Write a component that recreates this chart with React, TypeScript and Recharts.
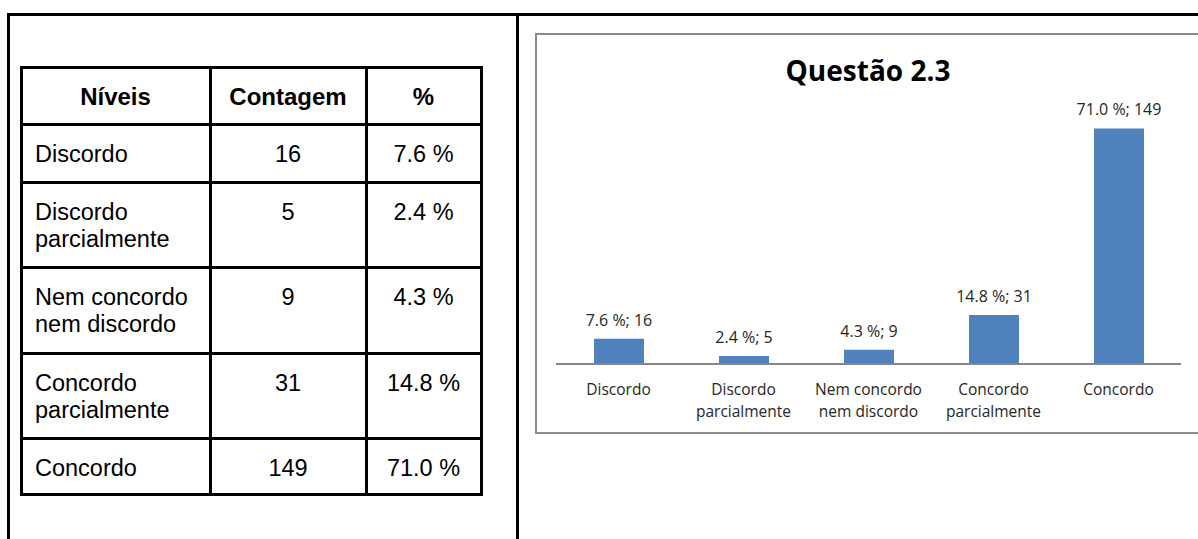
import React from 'react';
import { BarChart, Bar, XAxis, YAxis, LabelList } from 'recharts';

const categories = ['Discordo', 'Discordo parcialmente', 'Nem concordo nem discordo', 'Concordo parcialmente', 'Concordo'];
const categoryLines = [['Discordo'], ['Discordo', 'parcialmente'], ['Nem concordo', 'nem discordo'], ['Concordo', 'parcialmente'], ['Concordo']];
const counts = [16, 5, 9, 31, 149];
const percents = ['7.6 %', '2.4 %', '4.3 %', '14.8 %', '71.0 %'];
const headers = ['Níveis', 'Contagem', '%'];
const chartTitle = 'Questão 2.3';

const data = categories.map((c, i) => ({ name: c, value: counts[i], pct: percents[i], idx: i }));

const colX = [21, 210, 366, 481];
const rowY = [67, 124, 182, 267, 353, 438, 494];
const LINE = 2.5;

const CatTick = (props: any) => {
  const { x, y, payload } = props;
  const lines = categoryLines[payload.index] || [payload.value];
  return (
    <g>
      {lines.map((l: string, k: number) => (
        <text key={k} x={x} y={y + 23 + k * 22} textAnchor="middle" fontFamily="'Open Sans'" fontSize={15.5} fill="#262626">
          {l}
        </text>
      ))}
    </g>
  );
};

const BarLabel = (props: any) => {
  const { x, y, width, index } = props;
  return (
    <text x={x + width / 2} y={y - 13} textAnchor="middle" fontFamily="'Open Sans'" fontSize={16} fill="#262626">
      {`${percents[index]}; ${counts[index]}`}
    </text>
  );
};

export default function App() {
  const cells: React.ReactNode[] = [];
  for (let r = 0; r < rowY.length; r++) {
    cells.push(
      <div key={'h' + r} style={{ position: 'absolute', left: colX[0] - 1, top: rowY[r] - 1, width: colX[3] - colX[0] + LINE, height: LINE, background: '#000' }} />
    );
  }
  for (let c = 0; c < colX.length; c++) {
    cells.push(
      <div key={'v' + c} style={{ position: 'absolute', left: colX[c] - 1, top: rowY[0] - 1, width: LINE, height: rowY[rowY.length - 1] - rowY[0] + LINE, background: '#000' }} />
    );
  }
  headers.forEach((h, c) => {
    cells.push(
      <div key={'hd' + c} style={{ position: 'absolute', left: colX[c], width: colX[c + 1] - colX[c], top: rowY[0] + 1, height: rowY[1] - rowY[0], display: 'flex', alignItems: 'center', justifyContent: 'center', fontFamily: "'Liberation Sans', Arial, sans-serif", fontWeight: 'bold', fontSize: 24, color: '#000' }}>
        {h}
      </div>
    );
  });
  categories.forEach((cat, i) => {
    const top = rowY[i + 1];
    const base = { position: 'absolute' as const, top: top + 17, fontFamily: "'Liberation Sans', Arial, sans-serif", fontSize: 23.5, lineHeight: '27px', color: '#000' };
    cells.push(
      <div key={'c0' + i} style={{ ...base, left: colX[0] + 14 }}>
        {categoryLines[i].map((l, k) => (<div key={k}>{l}</div>))}
      </div>
    );
    cells.push(
      <div key={'c1' + i} style={{ ...base, left: colX[1], width: colX[2] - colX[1], textAlign: 'center' }}>{counts[i]}</div>
    );
    cells.push(
      <div key={'c2' + i} style={{ ...base, left: colX[2], width: colX[3] - colX[2], textAlign: 'center' }}>{percents[i]}</div>
    );
  });

  return (
    <div style={{ position: 'absolute', left: 0, top: 0, width: 1198, height: 539, overflow: 'hidden', background: '#fff' }}>
      <div style={{ position: 'absolute', left: 7, top: 13, width: 1200, height: LINE, background: '#000' }} />
      <div style={{ position: 'absolute', left: 7, top: 13, width: LINE, height: 540, background: '#000' }} />
      <div style={{ position: 'absolute', left: 516, top: 13, width: LINE, height: 540, background: '#000' }} />
      {cells}
      <div style={{ position: 'absolute', left: 535, top: 33, width: 700, height: 401, boxSizing: 'border-box', border: '2px solid #8c8c8c' }} />
      <svg style={{ position: 'absolute', left: 0, top: 0 }} width={1198} height={539}>
        <text x={868} y={81} textAnchor="middle" fontFamily="'Open Sans'" fontWeight="bold" fontSize={28} fill="#000">
          {chartTitle}
        </text>
      </svg>
      <div style={{ position: 'absolute', left: 536, top: 0 }}>
        <BarChart width={662} height={434} data={data} margin={{ top: 111, right: 17, left: 20, bottom: 10 }}>
          <XAxis dataKey="name" height={60} interval={0} tickLine={false} axisLine={{ stroke: '#868686', strokeWidth: 2 }} tick={<CatTick />} />
          <YAxis hide domain={[0, 160]} />
          <Bar dataKey="value" fill="#4F81BD" barSize={50} isAnimationActive={false}>
            <LabelList dataKey="value" content={<BarLabel />} />
          </Bar>
        </BarChart>
      </div>
    </div>
  );
}
